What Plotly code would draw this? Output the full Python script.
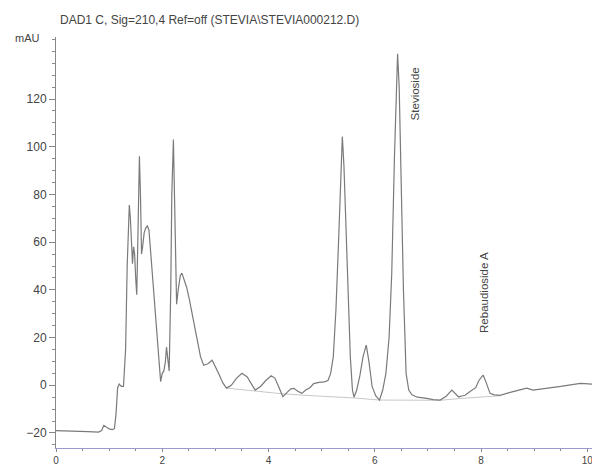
import plotly.graph_objects as go

# Retention time (min) and detector signal (mAU)
time_min = [0, 0.3, 0.6, 0.8, 0.86, 0.9, 0.94, 1.0, 1.06, 1.1,
            1.13, 1.16, 1.19, 1.23, 1.27, 1.31, 1.34, 1.36, 1.38, 1.40,
            1.42, 1.44, 1.46, 1.48, 1.50, 1.52, 1.54, 1.56, 1.57, 1.59,
            1.61, 1.63, 1.66, 1.69, 1.72, 1.75, 1.78, 1.82, 1.86, 1.90,
            1.94, 1.97, 2.00, 2.03, 2.06, 2.08, 2.10, 2.13, 2.16, 2.18,
            2.21, 2.24, 2.27, 2.30, 2.34, 2.37, 2.41, 2.46, 2.51, 2.56,
            2.61, 2.66, 2.72, 2.78, 2.86, 2.94, 3.00, 3.07, 3.14, 3.21,
            3.30, 3.40, 3.50, 3.60, 3.68, 3.75, 3.85, 3.95, 4.05, 4.12,
            4.20, 4.27, 4.35, 4.42, 4.48, 4.55, 4.63, 4.70, 4.78, 4.85,
            4.95, 5.05, 5.12, 5.17, 5.22, 5.27, 5.32, 5.36, 5.39, 5.42,
            5.46, 5.50, 5.54, 5.58, 5.61, 5.66, 5.72, 5.78, 5.84, 5.89,
            5.95, 6.02, 6.09, 6.15, 6.21, 6.27, 6.32, 6.37, 6.41, 6.43,
            6.46, 6.50, 6.54, 6.59, 6.64, 6.70, 6.80, 6.98, 7.10, 7.23,
            7.35, 7.45, 7.52, 7.58, 7.64, 7.70, 7.80, 7.90, 7.96, 8.04,
            8.10, 8.17, 8.25, 8.36, 8.55, 8.75, 8.86, 8.98, 9.2, 9.5,
            9.87, 10.05, 10.24]
signal_mau = [-19, -19.1, -19.4, -19.6, -19, -16.8, -17.5, -18.3, -18.6, -18.2,
              -12, -1, 0.5, -0.5, -0.5, 15, 50, 65, 75.6, 70,
              60, 51, 58, 55, 45, 38, 60, 88, 96, 80,
              55, 58, 64, 66, 66.8, 65, 56, 45, 33, 22,
              8, 1.5, 5, 6, 10, 16, 12, 6, 40, 80,
              103, 70, 34, 40, 46, 47, 44, 41, 36, 30,
              24, 18, 12, 8.4, 9, 10.5, 8, 4.5, 1, -1.2,
              0, 3, 5, 3.5, 0.5, -2, -0.5, 2, 4, 3,
              -1, -4.8, -3, -1.5, -1.3, -2.5, -3.4, -2, -1, 0.7,
              1.2, 1.4, 2, 5, 12, 32, 61, 92, 104.3, 92,
              65, 35, 12, -2, -5, -2, 4, 12, 16.8, 10,
              -0.5, -4.5, -6.2, -2, 5, 20, 47, 95, 132, 139,
              125, 80, 40, 5, -2, -4, -5, -5.5, -6, -6.2,
              -4.5, -2, -3.5, -4.9, -4.5, -4.2, -2.5, -1, 2, 4.3,
              1, -3.4, -4, -4.2, -3, -2, -1.2, -2, -1.5, -0.5,
              0.8, 0.5, 0.2]

# Integration baseline drawn under the later peaks
baseline_time = [3.21, 4.27, 5.0, 5.61, 6.09, 6.7, 7.23, 7.58, 8.36]
baseline_mau = [-1.2, -3.6, -4.6, -5.3, -6.2, -6.3, -6.3, -5.6, -4.4]

# Peak labels
peak_names = ["Stevioside", "Rebaudioside A"]
peak_label_time = [6.76, 8.07]
peak_label_mau = [122, 39]

x_tick_vals = [0, 2, 4, 6, 8, 10]
y_tick_vals = [-20, 0, 20, 40, 60, 80, 100, 120]

fig = go.Figure()
fig.add_trace(go.Scatter(x=baseline_time, y=baseline_mau, mode="lines",
                         line=dict(color="#c8c8c8", width=1), hoverinfo="skip"))
fig.add_trace(go.Scatter(x=time_min, y=signal_mau, mode="lines",
                         line=dict(color="#7a7a7a", width=1.2)))

for name, tx, ty in zip(peak_names, peak_label_time, peak_label_mau):
    fig.add_annotation(x=tx, y=ty, text=name, showarrow=False, textangle=-90,
                       font=dict(family="Liberation Sans, Arial", size=11.5, color="#444"))

fig.add_annotation(xref="paper", yref="paper", x=0.004, y=1.041, xanchor="left",
                   yanchor="middle", showarrow=False,
                   text="DAD1 C, Sig=210,4 Ref=off (STEVIA\\STEVIA000212.D)",
                   font=dict(family="Liberation Sans, Arial", size=12, color="#444"))
fig.add_annotation(xref="paper", yref="y", x=-0.026, y=145.5, xanchor="right",
                   yanchor="middle", showarrow=False, text="mAU",
                   font=dict(family="Liberation Sans, Arial", size=11, color="#444"))

fig.update_layout(
    width=600, height=468,
    margin=dict(l=48, r=8, t=29, b=28, autoexpand=False),
    paper_bgcolor="white", plot_bgcolor="white",
    showlegend=False,
    font=dict(family="Liberation Sans, Arial", size=12, color="#444"),
)
fig.update_xaxes(range=[0, 10.24], tickvals=x_tick_vals, showgrid=False, zeroline=False,
                 automargin=False,
                 showline=True, linecolor="#9a9ad0", linewidth=1,
                 ticks="outside", ticklen=3, tickcolor="#888",
                 minor=dict(dtick=0.5, ticks="outside", ticklen=2, tickcolor="#888"),
                 tickfont=dict(size=10, color="#444"))
fig.update_yaxes(range=[-26.3, 146], tickvals=y_tick_vals, showgrid=False, zeroline=False,
                 automargin=False,
                 showline=True, linecolor="#888", linewidth=1,
                 ticks="outside", ticklen=6, tickcolor="#888",
                 minor=dict(dtick=5, ticks="outside", ticklen=3, tickcolor="#888"),
                 tickfont=dict(size=12, color="#444"))

fig.write_html("out.html")
